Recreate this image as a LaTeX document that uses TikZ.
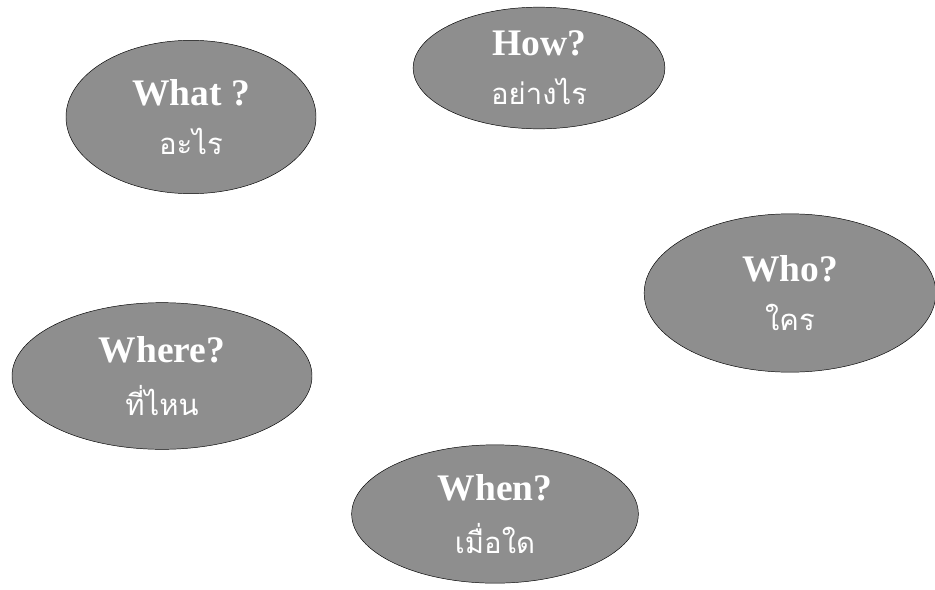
\documentclass[tikz,border=0pt]{standalone}
\usepackage{fontspec}
\setmainfont{Liberation Serif}
\newfontfamily\thaifont[Script=Thai]{Loma}
\usepackage{tikz}
\usetikzlibrary{shapes.geometric}
\definecolor{blob}{HTML}{8E8E8E}
\newcommand{\qlabel}[2]{{\fontsize{32}{36}\selectfont\bfseries #1}\\[18pt]{\thaifont\fontsize{25}{28}\selectfont #2}}

\begin{document}
\begin{tikzpicture}[x=0.03cm,y=-0.03cm,
  qbox/.style={ellipse,draw=black,thin,fill=blob,inner sep=0pt,align=center,text=white}]
  \useasboundingbox (0,0) rectangle (935,589);
  \node[qbox,minimum width=7.5cm,minimum height=4.6cm] (what) at (191,117) {\qlabel{What ?}{อะไร}};
  \node[qbox,minimum width=7.55cm,minimum height=3.65cm] (how) at (539,68) {\qlabel{How?}{อย่างไร}};
  \node[qbox,minimum width=8.75cm,minimum height=4.75cm] (who) at (790,293) {\qlabel{Who?}{ใคร}};
  \node[qbox,minimum width=9.0cm,minimum height=4.4cm] (where) at (162,376) {\qlabel{Where?}{ที่ไหน}};
  \node[qbox,minimum width=8.6cm,minimum height=4.15cm] (when) at (495,514) {\qlabel{When?}{เมื่อใด}};
\end{tikzpicture}
\end{document}
